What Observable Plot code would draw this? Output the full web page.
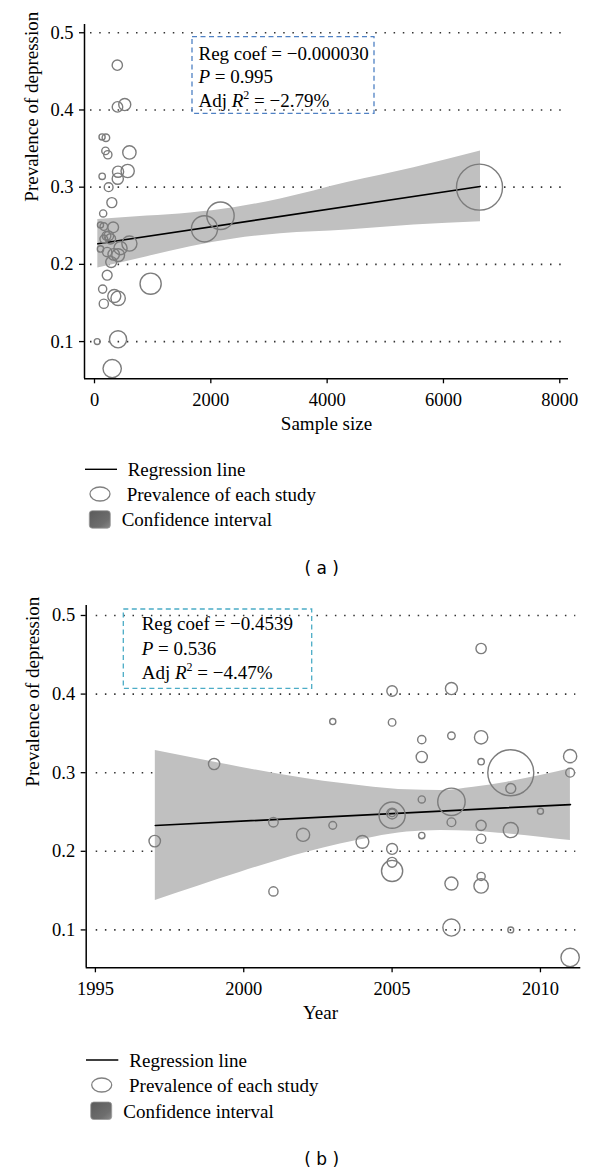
<!DOCTYPE html>
<html><head><meta charset="utf-8">
<script src="https://cdn.jsdelivr.net/npm/d3@7"></script>
<script src="https://cdn.jsdelivr.net/npm/@observablehq/plot@0.6"></script>
<style>
html,body{margin:0;padding:0;background:#fff;}
#page{position:relative;width:600px;height:1175px;overflow:hidden;font-family:"Liberation Serif","Times New Roman",serif;}
#page > svg{position:absolute;left:0;overflow:visible;}
#page svg text{font-family:"Liberation Serif","Times New Roman",serif;}
#page svg text.cap{font-family:"DejaVu Sans",sans-serif;}
</style></head><body><div id="page"></div>
<script>
// ---- data ----
const studyYear = [1997,1999,2001,2001,2002,2003,2003,2004,2005,2005,2005,2005,2005,2005,2005,2005,2006,2006,2006,2006,2007,2007,2007,2007,2007,2007,2008,2008,2008,2008,2008,2008,2008,2009,2009,2009,2009,2010,2011,2011,2011];
const studyPrev = [0.213,0.311,0.237,0.149,0.221,0.365,0.233,0.212,0.404,0.364,0.246,0.248,0.249,0.203,0.186,0.175,0.342,0.320,0.266,0.220,0.407,0.347,0.263,0.237,0.159,0.103,0.458,0.345,0.314,0.233,0.216,0.168,0.156,0.300,0.280,0.227,0.100,0.251,0.321,0.300,0.065];
const studySize = [330,400,246,160,447,130,160,407,395,196,1891,321,160,287,218,965,229,405,149,103,520,189,2166,206,340,405,392,600,132,275,218,140,406,6620,298,600,46,103,570,243,304];

const bandA_n  = [57, 906, 1651, 2395, 3198, 4345, 5491, 6637];
const bandA_lo = [0.1954, 0.2100, 0.2227, 0.2328, 0.2397, 0.2445, 0.2510, 0.2553];
const bandA_hi = [0.2580, 0.2626, 0.2667, 0.2734, 0.2847, 0.3059, 0.3252, 0.3469];
const lineA_n = [57, 6630];
const lineA_p = [0.2267, 0.3009];

const bandB_year = [1997.02, 1999.89, 2002.13, 2004.38, 2005.5, 2006.63, 2007.75, 2008.88, 2010.0, 2011.01];
const bandB_lo   = [0.1374, 0.1735, 0.1989, 0.2180, 0.2244, 0.2265, 0.2256, 0.2222, 0.2180, 0.2137];
const bandB_hi   = [0.3282, 0.3070, 0.2922, 0.2816, 0.2782, 0.2774, 0.2816, 0.2880, 0.2964, 0.3049];
const lineB_year = [1997.02, 2011.01];
const lineB_p    = [0.2328, 0.2595];

const yTicks = [0.1, 0.2, 0.3, 0.4, 0.5];
const xTicksA = [0, 2000, 4000, 6000, 8000];
const xTicksB = [1995, 2000, 2005, 2010];
const xDomainA = [-172, 8150];
const xDomainB = [1994.69, 2011.36];
const yDomainA = [0.0518, 0.5107];
const yDomainB = [0.0518, 0.5127];

const yTitle = "Prevalence of depression";
const xTitleA = "Sample size";
const xTitleB = "Year";
const statsA = {coef: "−0.000030", p: "0.995", r2: "−2.79%"};
const statsB = {coef: "−0.4539", p: "0.536", r2: "−4.47%"};
const legendLabels = ["Regression line", "Prevalence of each study", "Confidence interval"];
const captions = ["( a )", "( b )"];

// ---- tables ----
const studies = studyYear.map((y, i) => ({
  year: y, p: studyPrev[i], n: studySize[i],
  w: studySize[i] / (studyPrev[i] * (1 - studyPrev[i]))
}));
const wMax = d3.max(studies, d => d.w);
const bandA = bandA_n.map((x, i) => ({x, lo: bandA_lo[i], hi: bandA_hi[i]}));
const lineA = lineA_n.map((x, i) => ({x, y: lineA_p[i]}));
const bandB = bandB_year.map((x, i) => ({x, lo: bandB_lo[i], hi: bandB_hi[i]}));
const lineB = lineB_year.map((x, i) => ({x, y: lineB_p[i]}));

const FONT = "Liberation Serif";

function panel(o) {
  const svg = Plot.plot({
    width: 600, height: o.height,
    marginLeft: o.ml, marginRight: o.mr, marginTop: o.mt, marginBottom: o.mb,
    style: {fontFamily: FONT, fontSize: "18.5px", color: "#000", background: "transparent", overflow: "visible"},
    x: {domain: o.xDomain},
    y: {domain: o.yDomain},
    r: {type: "sqrt", domain: [0, wMax], range: [0, 23]},
    marks: [
      Plot.gridY(yTicks, {stroke: "#333", strokeOpacity: 1, strokeWidth: 1.6, strokeDasharray: "1.5,7.7", insetLeft: o.gl, insetRight: o.gr}),
      Plot.areaY(o.band, {x: "x", y1: "lo", y2: "hi", fill: "#c0c0c0", curve: "monotone-x"}),
      Plot.line(o.line, {x: "x", y: "y", stroke: "#000", strokeWidth: 1.7}),
      Plot.dot(studies, {x: o.xField, y: "p", r: "w", stroke: "#7c7c7c", strokeWidth: 1.4, fill: "none"}),
      Plot.ruleX([o.xDomain[0]], {stroke: "#000", strokeWidth: 1.5}),
      Plot.ruleY([o.yDomain[0]], {stroke: "#000", strokeWidth: 1.5}),
      Plot.axisY(yTicks, {tickSize: 5, tickPadding: 6, tickFormat: d => d.toFixed(1), label: null, strokeWidth: 1.3, fontFamily: FONT, fontSize: 18.5}),
      Plot.axisX(o.xTicks, {tickSize: 5, tickPadding: 9, tickFormat: d => String(d), label: null, strokeWidth: 1.3, fontFamily: FONT, fontSize: 18.5}),
      Plot.text([o.xTitle], {frameAnchor: "bottom", dy: 51, dx: o.xTitleDx, fontSize: 19, fontFamily: FONT, fill: "#000"}),
      Plot.text([yTitle], {frameAnchor: "left", rotate: -90, dx: -53, fontSize: 19, fontFamily: FONT, fill: "#000"})
    ]
  });
  svg.setAttribute("font-family", FONT);
  svg.style.fontFamily = '"Liberation Serif", serif';
  return svg;
}

const page = document.getElementById("page");
const svgA = panel({height: 440, ml: 84, mr: 32, mt: 24, mb: 61.7, xDomain: xDomainA, yDomain: yDomainA,
  xTicks: xTicksA, band: bandA, line: lineA, xField: "n", gl: 6, gr: 3, xTitle: xTitleA, xTitleDx: 0});
svgA.style.top = "0px";
page.appendChild(svgA);

const svgB = panel({height: 460, ml: 85.7, mr: 19.7, mt: 25, mb: 72.7, xDomain: xDomainB, yDomain: yDomainB,
  xTicks: xTicksB, band: bandB, line: lineB, xField: "year", gl: 10, gr: 5, xTitle: xTitleB, xTitleDx: -13});
svgB.style.top = "580px";
page.appendChild(svgB);

// ---- overlay: stat boxes, legends, captions ----
const ov = d3.select(page).append("svg")
  .attr("width", 600).attr("height", 1175).style("top", "0px")
  .style("font-family", FONT).style("pointer-events", "none");

const defs = ov.append("defs");
const grad = defs.append("linearGradient").attr("id", "ciGrad").attr("x1", 0).attr("y1", 0).attr("x2", 1).attr("y2", 1);
grad.append("stop").attr("offset", "0%").attr("stop-color", "#5a5a5a");
grad.append("stop").attr("offset", "70%").attr("stop-color", "#6e6e6e");
grad.append("stop").attr("offset", "100%").attr("stop-color", "#8a8a8a");

function statBox(b, s) {
  const g = ov.append("g");
  g.append("rect").attr("x", b.x).attr("y", b.y).attr("width", b.w).attr("height", b.h)
    .attr("fill", "none").attr("stroke", b.color).attr("stroke-width", 1.3).attr("stroke-dasharray", "5,3.5");
  const t = g.append("g").attr("font-size", 19).attr("fill", "#000");
  t.append("text").attr("x", b.tx).attr("y", b.b1).text("Reg coef = " + s.coef);
  const t2 = t.append("text").attr("x", b.tx).attr("y", b.b1 + b.gap);
  t2.append("tspan").attr("font-style", "italic").text("P");
  t2.append("tspan").text(" = " + s.p);
  const t3 = t.append("text").attr("x", b.tx).attr("y", b.b1 + 2 * b.gap);
  t3.append("tspan").text("Adj ");
  t3.append("tspan").attr("font-style", "italic").text("R");
  t3.append("tspan").attr("dy", -8).attr("font-size", 12).text("2");
  t3.append("tspan").attr("dy", 8).text(" = " + s.r2);
}
statBox({x: 192, y: 36.7, w: 182, h: 76.6, color: "#4f81c4", tx: 198.5, b1: 59.5, gap: 23.5}, statsA);
statBox({x: 123.3, y: 609, w: 188.4, h: 79.3, color: "#4bacc6", tx: 141.7, b1: 630, gap: 24.6}, statsB);

function legend(L) {
  const g = ov.append("g").attr("font-size", 19).attr("fill", "#000");
  g.append("line").attr("x1", L.lx1).attr("x2", L.lx2).attr("y1", L.y1).attr("y2", L.y1)
    .attr("stroke", "#000").attr("stroke-width", 1.4);
  g.append("text").attr("x", L.t1).attr("y", L.y1).attr("dominant-baseline", "central").text(legendLabels[0]);
  g.append("ellipse").attr("cx", L.cx).attr("cy", L.y2).attr("rx", 10).attr("ry", 7)
    .attr("fill", "#fff").attr("stroke", "#808080").attr("stroke-width", 1.3);
  g.append("text").attr("x", L.t2).attr("y", L.y2).attr("dominant-baseline", "central").text(legendLabels[1]);
  g.append("rect").attr("x", L.rx).attr("y", L.ry).attr("width", 21).attr("height", 17.5).attr("rx", 3)
    .attr("fill", "url(#ciGrad)").attr("stroke", "#9a9a9a").attr("stroke-width", 0.8);
  g.append("text").attr("x", L.t3).attr("y", L.y3).attr("dominant-baseline", "central").text(legendLabels[2]);
}
legend({lx1: 85, lx2: 117, y1: 469.3, t1: 127.7, cx: 100, y2: 494, t2: 126.7, rx: 89.3, ry: 510.7, t3: 121.7, y3: 519.5});
legend({lx1: 86, lx2: 118.3, y1: 1060, t1: 129.3, cx: 101.7, y2: 1085, t2: 129, rx: 90.7, ry: 1102, t3: 123.3, y3: 1111.5});

ov.append("text").attr("class", "cap").attr("x", 321.7).attr("y", 567.7).attr("text-anchor", "middle").attr("dominant-baseline", "central")
  .attr("font-size", 17).text(captions[0]);
ov.append("text").attr("class", "cap").attr("x", 321.7).attr("y", 1159.3).attr("text-anchor", "middle").attr("dominant-baseline", "central")
  .attr("font-size", 17).text(captions[1]);
</script>
</body></html>
